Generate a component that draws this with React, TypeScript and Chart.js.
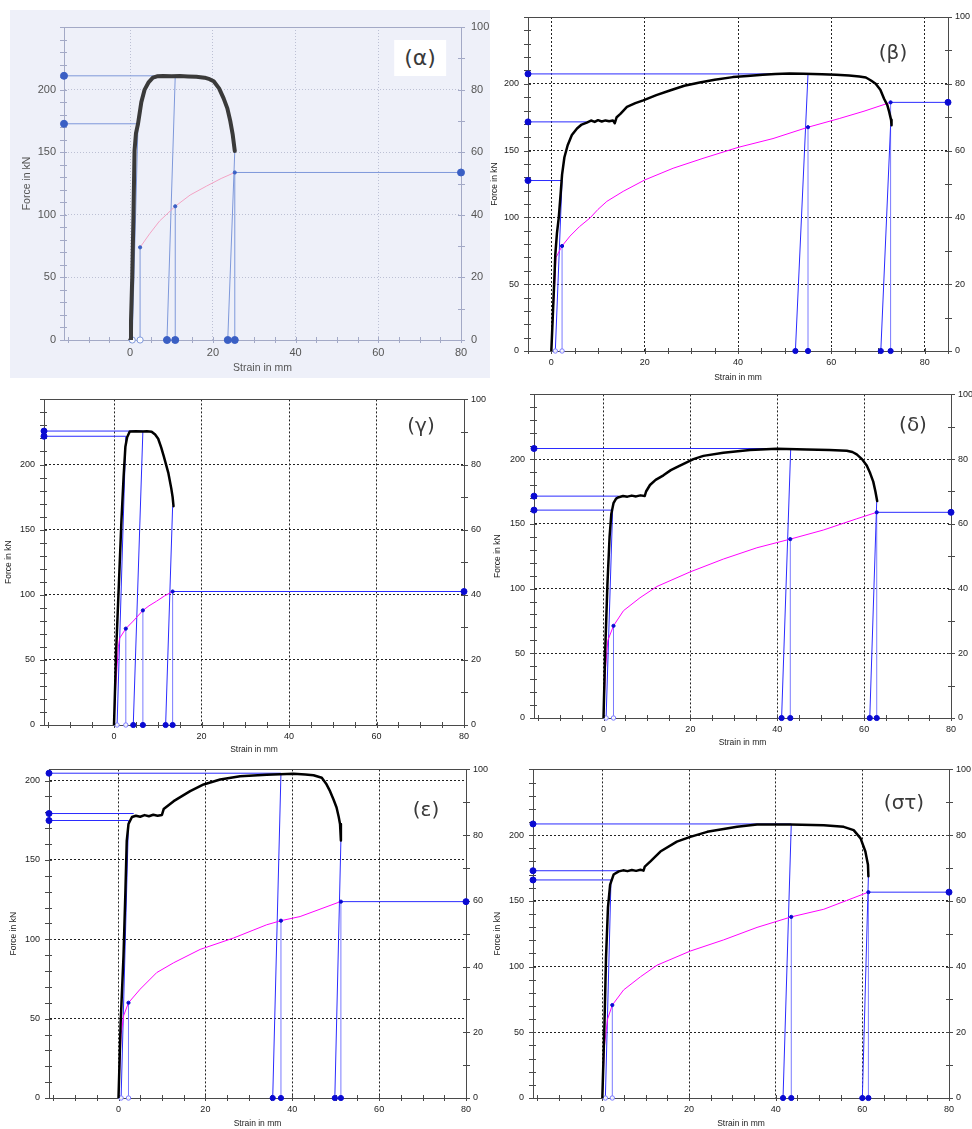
import React, { useEffect, useRef } from "react";
import { Chart, registerables } from "chart.js";

Chart.register(...registerables);
Chart.defaults.font.family = "'Liberation Sans', Arial, Helvetica, sans-serif";

type Pt = [number, number]; // [strain mm, force kN]
type Slant = [number, number, number]; // [strain at base, strain at top, force at top]

// ---------------- (α) ----------------
const alphaCurve: Pt[] = [
  [0, 0], [0.2, 15], [0.5, 50], [0.8, 100], [1.05, 151], [1.4, 165], [1.9, 172.7], [2.7, 190],
  [3.5, 200], [4.5, 206], [5.5, 209.5], [6.5, 210.6], [8, 210.8], [10, 210.6], [12, 210.8],
  [14, 210.5], [16, 210.3], [18, 209.5], [19.2, 208.3], [20.2, 206.6], [21.5, 201], [22.6, 193],
  [23.5, 185], [24.2, 175], [24.8, 164], [25.3, 151],
];
const alphaExt: Pt[] = [
  [2.4, 74], [4.7, 84.8], [7.1, 95], [10.9, 106.8], [14.5, 115.8], [18.5, 123], [22, 129], [25.3, 133.8],
];
const alphaHolds: Pt[] = [[10.9, 211], [1.9, 172.7]];
const alphaBreak: Pt = [25.3, 133.8];
const alphaSlants: Slant[] = [[0.5, 1.9, 172.7], [8.9, 10.9, 211], [23.6, 25.3, 151]];
const alphaMarks: Pt[] = [[2.4, 74], [10.9, 106.8], [25.3, 133.8]];
const alphaOpen = [0.5, 2.4];
const alphaSolid = [8.9, 10.9, 23.6, 25.3];

// ---------------- (β) ----------------
const betaCurve: Pt[] = [
  [0, 0], [0.3, 25], [0.6, 50], [0.85, 72], [1.2, 88], [1.6, 100], [2.0, 118], [2.3, 132], [2.8, 145],
  [3.5, 154], [4.4, 161.6], [5.5, 166.5], [6.5, 169.5], [7.6, 171], [8.5, 172.5], [9.3, 171.5],
  [10, 172.8], [10.8, 171.8], [11.6, 172.6], [12.4, 172], [13.2, 172.6], [13.6, 170.5], [14, 175],
  [14.8, 177.5], [16.2, 182.7], [18, 185.5], [19.7, 187.6], [22.5, 191.5], [25.4, 195], [28.5, 198.5],
  [31.8, 201], [35, 203], [38.9, 205], [42, 205.8], [45.3, 206.7], [48, 207.3], [51, 207.7], [54, 207.5],
  [58, 207.2], [61, 206.8], [63.8, 206.2], [66, 205.5], [67.4, 204.7], [68.5, 202.5], [69.5, 200],
  [70.5, 195.5], [71.3, 188.8], [72, 184], [72.4, 179], [72.8, 173], [72.9, 169],
];
const betaExt: Pt[] = [
  [0, 0], [0.4, 30], [0.8, 55], [1.0, 70], [2.3, 78.6], [4, 86], [6, 93], [8.3, 99.6], [10, 106],
  [11.9, 112], [15.4, 119.5], [20, 128], [26.1, 136.8], [32.5, 144.2], [40, 152.4], [47.5, 159],
  [55, 167.5], [61.7, 174], [67, 179.5], [72.7, 186.1],
];
const betaHolds: Pt[] = [[55, 207.4], [7.6, 171.5], [2.3, 127.6]];
const betaBreak: Pt = [72.7, 186.1];
const betaSlants: Slant[] = [[0.85, 2.3, 127.6], [52.3, 55, 207.4], [70.6, 72.7, 169]];
const betaMarks: Pt[] = [[2.3, 78.6], [55, 167.5], [72.7, 186.1]];
const betaOpen = [0.85, 2.3];
const betaSolid = [52.3, 55, 70.6, 72.7];

// ---------------- (γ) ----------------
const gammaCurve: Pt[] = [
  [0, 0], [0.5, 58], [1.1, 107], [1.7, 157], [2.2, 191], [2.6, 213.6], [3.0, 221], [3.6, 225.4],
  [5, 225.6], [6.5, 225.4], [7.5, 225.6], [8.6, 225.2], [9.4, 223], [10.1, 219.8], [10.8, 213],
  [11.4, 206], [12.4, 193.8], [13.1, 181.5], [13.4, 175], [13.6, 168],
];
const gammaExt: Pt[] = [
  [0, 0], [0.4, 30], [0.7, 45], [1.0, 60], [1.3, 66.7], [2.7, 74], [4.4, 79.8], [6.6, 88], [8, 91.5],
  [9.7, 95], [11.5, 99], [13.4, 102.5],
];
const gammaHolds: Pt[] = [[6.6, 225.7], [2.7, 221.7]];
const gammaBreak: Pt = [13.4, 102.5];
const gammaSlants: Slant[] = [[0.7, 2.7, 221.7], [4.4, 6.6, 225.7], [11.8, 13.4, 168]];
const gammaMarks: Pt[] = [[2.7, 74], [6.6, 88], [13.4, 102.5]];
const gammaOpen = [0.7, 2.7];
const gammaSolid = [4.4, 6.6, 11.8, 13.4];

// ---------------- (δ) ----------------
const deltaCurve: Pt[] = [
  [0, 0], [0.4, 53], [0.9, 103], [1.4, 140], [1.8, 157.7], [2.3, 166], [2.9, 169.5], [3.5, 170.6],
  [4.5, 171.5], [5.5, 171], [6.5, 171.8], [7.5, 171.2], [8.5, 172], [9.5, 171.5], [9.8, 175],
  [10.7, 180], [12, 184], [13.8, 187.5], [15.5, 191.5], [17.6, 195], [20.7, 200], [23, 202.5],
  [27.6, 205], [33.7, 207], [39.9, 208], [46.8, 207.5], [52, 207], [56, 206.5], [57.3, 205.5],
  [58.3, 203.7], [59.5, 200], [60.6, 195], [61.4, 189], [62.1, 182.6], [62.6, 175], [63, 167.6],
];
const deltaExt: Pt[] = [
  [0, 0], [0.5, 40], [1.0, 60], [2.3, 71.2], [4.6, 82.9], [8.4, 92.9], [12.3, 101.6], [19.9, 112.8],
  [27.6, 122.8], [35.3, 131.5], [43, 138.2], [50.6, 145.2], [58.3, 153.9], [62.9, 158.9],
];
const deltaHolds: Pt[] = [[43.1, 208.2], [3.5, 171.4], [2.1, 160.6]];
const deltaBreak: Pt = [62.9, 158.9];
const deltaSlants: Slant[] = [[0.6, 2.1, 160.6], [41, 43.1, 208.2], [61.3, 62.9, 167.6]];
const deltaMarks: Pt[] = [[2.3, 71.2], [43, 138.2], [62.9, 158.9]];
const deltaOpen = [0.6, 2.3];
const deltaSolid = [41, 43, 61.3, 62.9];

// ---------------- (ε) ----------------
const epsCurve: Pt[] = [
  [0, 0], [0.5, 47.8], [1.15, 89.4], [1.6, 131], [1.9, 162], [2.3, 172.6], [3.1, 177], [4, 177.8],
  [5, 177.2], [6, 178.2], [7, 177.5], [8, 178.4], [9, 177.8], [10, 178.3], [10.4, 182], [12.7, 187],
  [16.5, 193.3], [19.6, 197.5], [23.4, 200.6], [28, 202.7], [34.1, 203.7], [40.3, 204.2], [43, 203.8],
  [44.9, 203.3], [46.8, 201.7], [47.8, 198], [48.7, 193.3], [49.5, 188], [50.2, 183], [50.7, 177],
  [51, 172.6], [51.2, 162.2],
];
const epsExt: Pt[] = [
  [0, 0], [0.6, 40], [1.2, 52], [2.3, 60], [5, 68.6], [8.8, 79], [12.7, 85.2], [18.8, 93.6],
  [26.5, 100.8], [34.1, 109.1], [37.4, 111.7], [41.8, 114.3], [51.1, 123.7],
];
const epsHolds: Pt[] = [[37.4, 204.6], [3.5, 179.2], [2.3, 174.8]];
const epsBreak: Pt = [51.1, 123.7];
const epsSlants: Slant[] = [[0.6, 2.3, 174.8], [35.5, 37.4, 204.6], [49.8, 51.2, 162.2]];
const epsMarks: Pt[] = [[2.3, 60], [37.4, 111.7], [51.2, 123.7]];
const epsOpen = [0.6, 2.3];
const epsSolid = [35.5, 37.4, 49.8, 51.2];

// ---------------- (στ) ----------------
const stCurve: Pt[] = [
  [0, 0], [0.5, 57], [0.85, 107], [1.3, 145], [1.8, 162.4], [2.6, 170], [3.8, 172.4], [4.8, 173.2],
  [5.8, 172.6], [6.8, 173.4], [7.8, 172.8], [8.8, 173.6], [9.5, 173], [9.8, 176], [11.1, 180],
  [13.4, 187.5], [17.2, 195], [20.3, 198.7], [24.2, 202.5], [31.1, 206.3], [35.7, 208], [43.4, 208],
  [51.1, 207.5], [55.7, 206.3], [58, 203.8], [59.6, 197.5], [60.7, 187.5], [61.3, 177.4], [61.4, 168.7],
];
const stExt: Pt[] = [
  [0, 0], [0.5, 40], [1.2, 60], [2.3, 70.7], [4.9, 82.2], [8.8, 92.2], [12.6, 101], [20.3, 111.8],
  [28, 120.3], [35.7, 129.8], [43.6, 137.8], [51.1, 143.6], [61.4, 156.6],
];
const stHolds: Pt[] = [[43.6, 208.5], [4.2, 172.9], [2, 165.9]];
const stBreak: Pt = [61.4, 156.6];
const stSlants: Slant[] = [[0.7, 2, 165.9], [41.7, 43.6, 208.5], [60, 61.4, 168.7]];
const stMarks: Pt[] = [[2.3, 70.7], [43.6, 137.8], [61.4, 156.6]];
const stOpen = [0.7, 2.3];
const stSolid = [41.7, 43.6, 60, 61.4];

// axis ranges
const xRangeWide: Pt = [-16, 80];
const xRangeBeta: Pt = [-5, 85];
const forceMax = 250;
const forceMaxEps = 207;
const rightMax = 100;

interface Style {
  bg: string; axis: string; grid: string; gridDash: number[]; text: string;
  font: number; titleFont: number; curve: string; curveW: number; ext: string; extW: number;
  blue: string; blueLight: string; dot: string; dotR: number; baseR: number;
  yPad: number; y1Pad: number; xPad: number;
}

const scanStyle: Style = {
  bg: "#eef0f9", axis: "#a3a9c6", grid: "#bcc0d4", gridDash: [1, 2], text: "#555",
  font: 11, titleFont: 10.5, curve: "#3a3a3a", curveW: 4, ext: "#f3a3c4", extW: 1,
  blue: "#7e98da", blueLight: "#7e98da", dot: "#3a5fc4", dotR: 3.5, baseR: 3.5,
  yPad: 8, y1Pad: 10, xPad: 6,
};
const plotStyle: Style = {
  bg: "#ffffff", axis: "#4a4a4a", grid: "#222", gridDash: [2, 2], text: "#222",
  font: 9, titleFont: 8.5, curve: "#000", curveW: 2.5, ext: "#ff00ff", extW: 1,
  blue: "#2b2bff", blueLight: "#7a7aff", dot: "#0a0ad2", dotR: 3, baseR: 2.6,
  yPad: 9, y1Pad: 7, xPad: 6,
};

interface PanelDef {
  name: string;
  box: [number, number, number, number];
  yW: number; y1W: number; padTop: number; xH: number;
  titleLeft: number; titleBottom: number;
  label: [number, number, number];
  xr: Pt; yMax: number;
  curve: Pt[]; ext: Pt[]; holds: Pt[]; brk: Pt; slants: Slant[]; marks: Pt[];
  open: number[]; solid: number[]; style: Style;
}

const panels: PanelDef[] = [
  { name: "(α)", box: [10, 10, 480, 368], yW: 54, y1W: 29, padTop: 17, xH: 38, titleLeft: 10.7, titleBottom: 3.7,
    label: [420, 58, 22], xr: xRangeWide, yMax: forceMax, curve: alphaCurve, ext: alphaExt, holds: alphaHolds,
    brk: alphaBreak, slants: alphaSlants, marks: alphaMarks, open: alphaOpen, solid: alphaSolid, style: scanStyle },
  { name: "(β)", box: [490, 0, 482, 385], yW: 38, y1W: 24, padTop: 17, xH: 34, titleLeft: 0, titleBottom: 2,
    label: [893, 52, 20], xr: xRangeBeta, yMax: forceMax, curve: betaCurve, ext: betaExt, holds: betaHolds,
    brk: betaBreak, slants: betaSlants, marks: betaMarks, open: betaOpen, solid: betaSolid, style: plotStyle },
  { name: "(γ)", box: [0, 385, 490, 370], yW: 44, y1W: 26, padTop: 5, xH: 30, titleLeft: 4, titleBottom: 0,
    label: [421, 425, 20], xr: xRangeWide, yMax: forceMax, curve: gammaCurve, ext: gammaExt, holds: gammaHolds,
    brk: gammaBreak, slants: gammaSlants, marks: gammaMarks, open: gammaOpen, solid: gammaSolid, style: plotStyle },
  { name: "(δ)", box: [490, 380, 482, 375], yW: 44, y1W: 21, padTop: 5, xH: 37, titleLeft: 3, titleBottom: 7,
    label: [913, 424, 20], xr: xRangeWide, yMax: forceMax, curve: deltaCurve, ext: deltaExt, holds: deltaHolds,
    brk: deltaBreak, slants: deltaSlants, marks: deltaMarks, open: deltaOpen, solid: deltaSolid, style: plotStyle },
  { name: "(ε)", box: [0, 755, 490, 374], yW: 49, y1W: 24, padTop: 12, xH: 31, titleLeft: 9, titleBottom: 0,
    label: [426, 809, 20], xr: xRangeWide, yMax: forceMaxEps, curve: epsCurve, ext: epsExt, holds: epsHolds,
    brk: epsBreak, slants: epsSlants, marks: epsMarks, open: epsOpen, solid: epsSolid, style: plotStyle },
  { name: "(στ)", box: [490, 755, 482, 374], yW: 43, y1W: 23, padTop: 12, xH: 31, titleLeft: 3, titleBottom: 0,
    label: [904, 802, 20], xr: xRangeWide, yMax: forceMax, curve: stCurve, ext: stExt, holds: stHolds,
    brk: stBreak, slants: stSlants, marks: stMarks, open: stOpen, solid: stSolid, style: plotStyle },
];

const isMult = (v: number, m: number) => Math.abs(v / m - Math.round(v / m)) < 1e-6;

const frameTicks = {
  id: "frameTicks",
  beforeDatasetsDraw(chart: any, _args: any, o: any) {
    const { ctx, chartArea: a, scales } = chart;
    const sx = scales.x, sy = scales.y, sy1 = scales.y1;
    ctx.save();
    ctx.strokeStyle = o.color;
    ctx.lineWidth = 1;
    ctx.beginPath();
    ctx.moveTo(a.left, Math.round(a.top) + 0.5);
    ctx.lineTo(a.right, Math.round(a.top) + 0.5);
    const startX = Math.ceil(sx.min / 5);
    const endX = Math.floor(sx.max / 5);
    for (let i = startX; i <= endX; i++) {
      const px = Math.round(sx.getPixelForValue(i * 5)) + 0.5;
      ctx.moveTo(px, a.bottom - 3);
      ctx.lineTo(px, a.bottom + 3);
    }
    for (let i = 0; i * 10 <= sy.max + 1e-9; i++) {
      const py = Math.round(sy.getPixelForValue(i * 10)) + 0.5;
      ctx.moveTo(a.left - 4, py);
      ctx.lineTo(a.left + 3, py);
    }
    for (let i = 0; i * 10 <= sy1.max + 1e-9; i++) {
      const py = Math.round(sy1.getPixelForValue(i * 10)) + 0.5;
      ctx.moveTo(a.right - 3, py);
      ctx.lineTo(a.right + 4, py);
    }
    ctx.stroke();
    ctx.restore();
  },
};

function buildConfig(p: PanelDef): any {
  const s = p.style;
  const [xMin, xMax] = p.xr;
  const pts = (arr: Pt[]) => arr.map(([x, y]) => ({ x, y }));
  const line = (data: any[], color: string, width: number, order: number, extra: any = {}) => ({
    data, borderColor: color, borderWidth: width, pointRadius: 0, showLine: true, fill: false,
    tension: 0, order, ...extra,
  });
  const dot = (data: any[], r: number, fillC: string, strokeC: string) => ({
    data, showLine: false, pointRadius: r, pointBackgroundColor: fillC, pointBorderColor: strokeC,
    pointBorderWidth: 1, clip: false, order: 1,
  });
  const ds: any[] = [];
  ds.push(line(pts(p.curve), s.curve, s.curveW, 0, { borderJoinStyle: "round", borderCapStyle: "round" }));
  ds.push(line(pts(p.ext), s.ext, s.extW, 2));
  p.holds.forEach(([x, f]) => ds.push(line([{ x: xMin, y: f }, { x, y: f }], s.blue, 1, 3)));
  ds.push(line([{ x: p.brk[0], y: p.brk[1] }, { x: xMax, y: p.brk[1] }], s.blue, 1, 3));
  p.slants.forEach(([x0, x1, f]) => ds.push(line([{ x: x0, y: 0 }, { x: x1, y: f }], s.blue, 1, 3)));
  p.marks.forEach(([x, f]) => ds.push(line([{ x, y: 0 }, { x, y: f }], s.blueLight, 1, 3)));
  ds.push(dot([...p.holds.map(([, f]) => ({ x: xMin, y: f })), { x: xMax, y: p.brk[1] }], s.dotR, s.dot, s.dot));
  ds.push(dot(p.solid.map((x) => ({ x, y: 0 })), s.baseR, s.dot, s.dot));
  ds.push(dot(p.open.map((x) => ({ x, y: 0 })), s.baseR - 0.4, "rgba(255,255,255,0.9)", s.blueLight));
  ds.push(dot(pts(p.marks), 1.6, s.dot, s.dot));

  const tickFont = { size: s.font };
  const titleFont = { size: s.titleFont };
  return {
    type: "scatter",
    data: { datasets: ds },
    plugins: [frameTicks],
    options: {
      responsive: false,
      animation: false,
      events: [],
      layout: { padding: { top: p.padTop, left: 0, right: 0, bottom: 0 } },
      plugins: {
        legend: { display: false },
        tooltip: { enabled: false },
        frameTicks: { color: s.axis },
      },
      scales: {
        x: {
          type: "linear", min: xMin, max: xMax,
          afterFit: (sc: any) => { sc.height = p.xH; },
          ticks: {
            stepSize: 5, autoSkip: false, maxRotation: 0, minRotation: 0, padding: s.xPad, color: s.text,
            font: tickFont, callback: (v: number) => (isMult(v, 20) ? String(v) : ""),
          },
          grid: {
            drawTicks: false, lineWidth: 1,
            color: (c: any) => (c.tick && isMult(c.tick.value, 20) ? s.grid : "rgba(0,0,0,0)"),
          },
          border: { color: s.axis, width: 1, dash: s.gridDash },
          title: { display: true, text: "Strain in mm", color: s.text, font: titleFont, padding: { top: 0, bottom: p.titleBottom } },
        },
        y: {
          type: "linear", position: "left", min: 0, max: p.yMax,
          afterFit: (sc: any) => { sc.width = p.yW; },
          ticks: {
            stepSize: 10, autoSkip: false, padding: s.yPad, color: s.text, font: tickFont,
            callback: (v: number) => (isMult(v, 50) && v <= 200 ? String(v) : ""),
          },
          grid: {
            drawTicks: false, lineWidth: 1,
            color: (c: any) => (c.tick && isMult(c.tick.value, 50) && c.tick.value > 0 && c.tick.value <= 200 ? s.grid : "rgba(0,0,0,0)"),
          },
          border: { color: s.axis, width: 1, dash: s.gridDash },
          title: { display: true, text: "Force in kN", color: s.text, font: titleFont, padding: { top: p.titleLeft, bottom: 0 } },
        },
        y1: {
          type: "linear", position: "right", min: 0, max: rightMax, display: true,
          afterFit: (sc: any) => { sc.width = p.y1W; },
          ticks: {
            stepSize: 10, autoSkip: false, padding: s.y1Pad, color: s.text, font: tickFont,
            callback: (v: number) => (isMult(v, 20) ? String(v) : ""),
          },
          grid: { display: false, drawTicks: false },
          border: { color: s.axis, width: 1 },
        },
      },
    },
  };
}

function PanelChart({ p }: { p: PanelDef }) {
  const ref = useRef<HTMLCanvasElement>(null);
  useEffect(() => {
    if (!ref.current) return;
    const chart = new Chart(ref.current, buildConfig(p));
    return () => chart.destroy();
  }, [p]);
  const [l, t, w, h] = p.box;
  return (
    <div style={{ position: "absolute", left: l, top: t, width: w, height: h, background: p.style.bg, overflow: "hidden" }}>
      <canvas ref={ref} width={w} height={h} style={{ display: "block", width: w, height: h }} />
    </div>
  );
}

export default function App() {
  return (
    <div style={{ position: "absolute", left: 0, top: 0, width: 972, height: 1129, background: "#fff", overflow: "hidden" }}>
      {panels.map((p) => (
        <PanelChart key={p.name} p={p} />
      ))}
      {panels.map((p) => (
        <div
          key={p.name + "-label"}
          style={{
            position: "absolute", left: p.label[0], top: p.label[1], transform: "translate(-50%, -50%)",
            fontFamily: "'DejaVu Sans', sans-serif", fontSize: p.label[2], lineHeight: 1, color: "#3a3a3a",
            whiteSpace: "nowrap",
            background: p.style === scanStyle ? "#ffffff" : "transparent",
            padding: p.style === scanStyle ? "7px 10px" : 0,
          }}
        >
          {p.name}
        </div>
      ))}
    </div>
  );
}
